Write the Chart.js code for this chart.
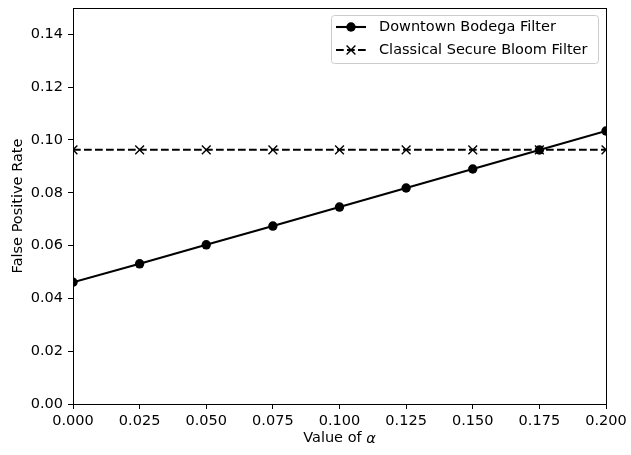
<!DOCTYPE html>
<html>
<head>
<meta charset="utf-8">
<script src="https://cdn.jsdelivr.net/npm/chart.js@4"></script>
<style>
  html, body { margin: 0; padding: 0; background: #fff; }
  #wrap { width: 631px; height: 455px; }
</style>
</head>
<body>
<div id="wrap"><canvas id="chart" width="631" height="455"></canvas></div>
<script>
const alphaValues = [0, 0.025, 0.05, 0.075, 0.1, 0.125, 0.15, 0.175, 0.2];
const bodegaFpr = [0.0461, 0.0531, 0.0603, 0.0674, 0.0746, 0.0818, 0.0890, 0.0962, 0.1034];
const classicalFpr = [0.0963, 0.0963, 0.0963, 0.0963, 0.0963, 0.0963, 0.0963, 0.0963, 0.0963];
const seriesNames = ["Downtown Bodega Filter", "Classical Secure Bloom Filter"];
const yTickMax = 0.14;

const FONT = "DejaVu Sans";
const FS = 14.5;

const toPoints = (ys) => alphaValues.map((x, i) => ({ x: x, y: ys[i] }));

// box round the plot, axis titles and the matplotlib style legend
const decorations = {
  id: "decorations",
  afterDatasetsDraw(chart) {
    const { ctx, chartArea: a } = chart;
    ctx.save();
    ctx.strokeStyle = "#000";
    ctx.lineWidth = 1;
    ctx.strokeRect(Math.round(a.left) + 0.5, Math.round(a.top) + 0.5,
      Math.round(a.right - a.left), Math.round(a.bottom - a.top));

    // axis titles
    ctx.fillStyle = "#000";
    ctx.textBaseline = "middle";
    const t1 = "Value of ";
    ctx.font = FS + "px '" + FONT + "'";
    const w1 = ctx.measureText(t1).width;
    ctx.font = "italic " + FS + "px '" + FONT + "'";
    const w2 = ctx.measureText("\u03b1").width;
    const cx = (a.left + a.right) / 2;
    const x0 = cx - (w1 + w2) / 2;
    ctx.textAlign = "left";
    ctx.font = FS + "px '" + FONT + "'";
    ctx.fillText(t1, x0, 438);
    ctx.font = "italic " + FS + "px '" + FONT + "'";
    ctx.fillText("\u03b1", x0 + w1, 439);

    ctx.save();
    ctx.translate(18, (a.top + a.bottom) / 2);
    ctx.rotate(-Math.PI / 2);
    ctx.textAlign = "center";
    ctx.font = FS + "px '" + FONT + "'";
    ctx.fillText("False Positive Rate", 0, 0);
    ctx.restore();

    // legend
    const bx = 331.5, by = 15.5, bw = 267, bh = 48;
    ctx.beginPath();
    ctx.roundRect(bx, by, bw, bh, 3);
    ctx.fillStyle = "rgba(255,255,255,0.8)";
    ctx.fill();
    ctx.strokeStyle = "#cccccc";
    ctx.lineWidth = 1;
    ctx.stroke();

    const rows = [
      { y: 27, dash: [], marker: "circle" },
      { y: 50, dash: [7.7, 3.3], marker: "x" }
    ];
    rows.forEach((r, i) => {
      ctx.strokeStyle = "#000";
      ctx.lineWidth = 2.1;
      ctx.setLineDash(r.dash);
      ctx.beginPath();
      ctx.moveTo(336, r.y);
      ctx.lineTo(366, r.y);
      ctx.stroke();
      ctx.setLineDash([]);
      if (r.marker === "circle") {
        ctx.beginPath();
        ctx.arc(351, r.y, 4.7, 0, Math.PI * 2);
        ctx.fillStyle = "#000";
        ctx.fill();
      } else {
        ctx.lineWidth = 1.4;
        ctx.beginPath();
        ctx.moveTo(346.6, r.y - 4.4); ctx.lineTo(355.4, r.y + 4.4);
        ctx.moveTo(346.6, r.y + 4.4); ctx.lineTo(355.4, r.y - 4.4);
        ctx.stroke();
      }
      ctx.fillStyle = "#000";
      ctx.textAlign = "left";
      ctx.textBaseline = "middle";
      ctx.font = FS + "px '" + FONT + "'";
      ctx.fillText(seriesNames[i], 379, r.y);
    });
    ctx.restore();
  }
};

new Chart(document.getElementById("chart").getContext("2d"), {
  type: "line",
  data: {
    datasets: [
      {
        label: seriesNames[0],
        data: toPoints(bodegaFpr),
        borderColor: "#000",
        backgroundColor: "#000",
        borderWidth: 2.1,
        pointStyle: "circle",
        pointRadius: 4.7,
        pointBorderWidth: 0,
        pointBackgroundColor: "#000",
        tension: 0,
        fill: false,
        clip: 0
      },
      {
        label: seriesNames[1],
        data: toPoints(classicalFpr),
        borderColor: "#000",
        backgroundColor: "#000",
        borderWidth: 2.1,
        borderDash: [7.7, 3.3],
        pointStyle: "crossRot",
        pointRadius: 6.2,
        pointBorderWidth: 1.4,
        pointBorderColor: "#000",
        tension: 0,
        fill: false,
        clip: 0
      }
    ]
  },
  options: {
    responsive: false,
    animation: false,
    events: [],
    layout: { padding: { top: 8, right: 25, left: 0, bottom: 0 } },
    scales: {
      x: {
        type: "linear",
        min: 0,
        max: 0.2,
        afterFit: (s) => { s.height = 51; s.paddingLeft = 0; s.paddingRight = 0; },
        border: { display: true, color: "#000", width: 1 },
        grid: { drawOnChartArea: false, drawTicks: true, tickLength: 5, color: "#000" },
        ticks: {
          stepSize: 0.025,
          color: "#000",
          padding: 4,
          maxRotation: 0,
          autoSkip: false,
          font: { family: FONT, size: FS },
          callback: (v) => v.toFixed(3)
        }
      },
      y: {
        min: 0,
        max: 0.15,
        afterFit: (s) => { s.width = 73; s.paddingTop = 0; s.paddingBottom = 0; },
        afterBuildTicks: (s) => { s.ticks = s.ticks.filter((t) => t.value <= yTickMax + 1e-9); },
        border: { display: true, color: "#000", width: 1 },
        grid: { drawOnChartArea: false, drawTicks: true, tickLength: 5, color: "#000" },
        ticks: {
          stepSize: 0.02,
          color: "#000",
          padding: 5,
          font: { family: FONT, size: FS },
          callback: (v) => v.toFixed(2)
        }
      }
    },
    plugins: {
      legend: { display: false },
      tooltip: { enabled: false },
      title: { display: false }
    }
  },
  plugins: [decorations]
});
</script>
</body>
</html>
